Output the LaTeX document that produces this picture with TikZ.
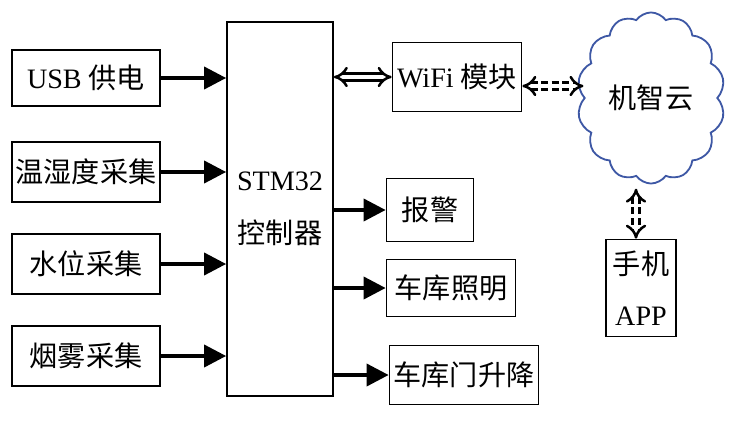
\documentclass[tikz,border=0pt]{standalone}
\usepackage{fontspec}
\setmainfont{Liberation Serif}
\newfontfamily\cjk{Noto Sans CJK SC}
\usetikzlibrary{arrows.meta,shapes.symbols}
\definecolor{cloudblue}{RGB}{62,88,165}
\begin{document}
\begin{tikzpicture}[x=0.025cm, y=-0.025cm,
  box/.style={draw, line width=1.2pt, inner sep=0pt, align=center,
    font=\fontsize{20}{24}\selectfont},
  feed/.style={line width=2.6pt, -{Triangle[length=0.55cm, width=0.55cm]}},
  wlink/.style={double, line width=1.8pt, double distance=3pt,
    {Implies}-{Implies}},
  dlink/.style={wlink, dash pattern=on 5pt off 2.5pt}]
  \useasboundingbox (0,0) rectangle (753,446);
  % inputs
  \node[box, minimum width=3.7cm, minimum height=1.4cm] (usb) at (86,78) {\rmfamily USB {\cjk 供电}};
  \node[box, minimum width=3.7cm, minimum height=1.5cm] (temp) at (86,172) {\cjk 温湿度采集};
  \node[box, minimum width=3.7cm, minimum height=1.5cm] (water) at (86,264) {\cjk 水位采集};
  \node[box, minimum width=3.7cm, minimum height=1.5cm] (smoke) at (86,356) {\cjk 烟雾采集};
  % controller
  \node[box, minimum width=2.65cm, minimum height=9.35cm] (stm) at (280,209)
    {STM32\\[14pt]{\cjk 控制器}};
  % outputs
  \node[box, minimum width=3.225cm, minimum height=1.725cm] (wifi) at (457,77) {WiFi {\cjk 模块}};
  \node[box, minimum width=2.175cm, minimum height=1.575cm] (alarm) at (430,210) {\cjk 报警};
  \node[box, minimum width=3.225cm, minimum height=1.425cm] (light) at (451,288) {\cjk 车库照明};
  \node[box, minimum width=3.725cm, minimum height=1.475cm] (door) at (464,375) {\cjk 车库门升降};
  % cloud and phone
  \node[cloud, cloud puffs=14, cloud puff arc=110, aspect=0.83, draw=cloudblue,
    line width=1.3pt, minimum width=3.425cm, minimum height=4.125cm,
    font=\fontsize{20}{24}\selectfont] (cloud) at (651,98) {\cjk 机智云};
  \node[box, minimum width=1.75cm, minimum height=2.425cm] (phone) at (641,288)
    {{\cjk 手机}\\[12pt]APP};
  \foreach \n in {usb,temp,water,smoke}
    \draw[feed] (\n.east) -- (\n.east -| stm.west);
  \foreach \n in {alarm,light,door}
    \draw[feed] (\n.west -| stm.east) -- (\n.west);
  \draw[wlink] (wifi.west -| stm.east) -- (wifi.west);
  \coordinate (wl) at ([yshift=-0.225cm]wifi.east);
  \draw[dlink] (wl) -- (wl -| cloud.west);
  \coordinate (pl) at ([xshift=-0.125cm]phone.north);
  \draw[dlink, shorten <=3pt] (pl |- cloud.south) -- (pl);
\end{tikzpicture}
\end{document}
